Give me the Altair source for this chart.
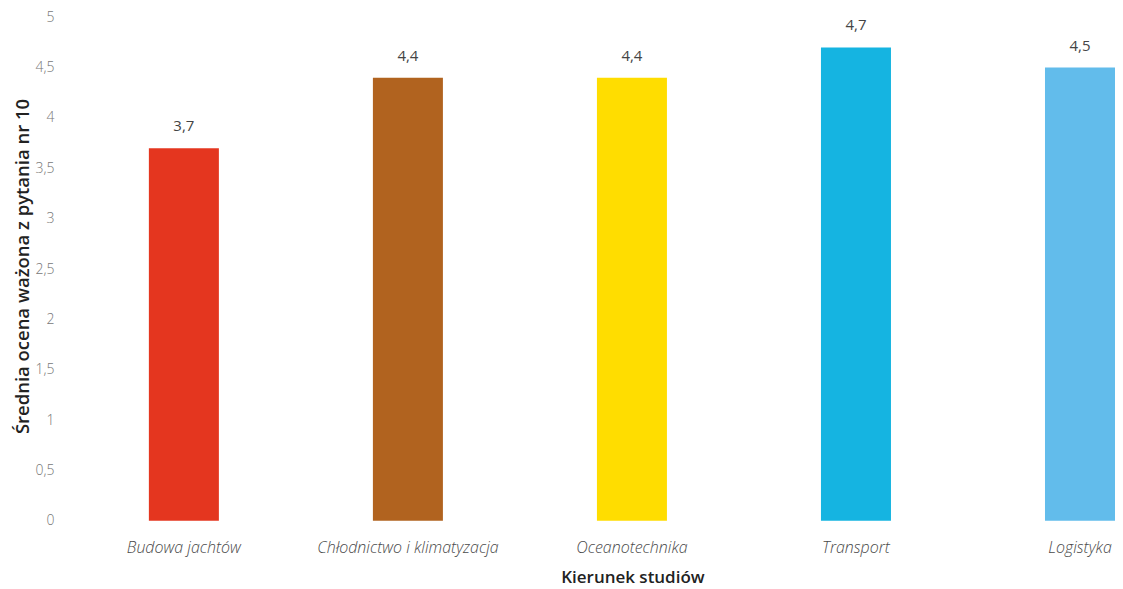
import altair as alt
import pandas as pd

categories = ["Budowa jachtów", "Chłodnictwo i klimatyzacja", "Oceanotechnika", "Transport", "Logistyka"]
values = [3.7, 4.4, 4.4, 4.7, 4.5]
colors = ["#E4361F", "#B1631F", "#FFDD00", "#15B4E1", "#62BCEB"]
y_ticks = [0, 0.5, 1, 1.5, 2, 2.5, 3, 3.5, 4, 4.5, 5]

df = pd.DataFrame({"kierunek": categories, "v": values, "c": colors})

font = "Open Sans"

x = alt.X("kierunek:N", sort=categories,
          scale=alt.Scale(paddingInner=0.6875, paddingOuter=0.165, align=1),
          axis=alt.Axis(title="Kierunek studiów", labelAngle=0, domain=False, ticks=False,
                        labelPadding=19, labelFont=font, labelFontSize=16, labelFontStyle="italic",
                        labelFontWeight=300, labelColor="#4a4a4a", labelLimit=400,
                        titleFont=font, titleFontSize=17,
                        titleFontWeight=600, titleColor="#222222", titleX=558, titleY=57,
                        titleBaseline="middle"))
y = alt.Y("v:Q", scale=alt.Scale(domain=[0, 5], nice=False),
          axis=alt.Axis(title="Średnia ocena ważona z pytania nr 10", values=y_ticks, grid=False,
                        domain=False, ticks=False, labelPadding=21, labelFont=font, labelFontSize=14,
                        labelColor="#777777", labelFontWeight=300,
                        labelExpr="replace(format(datum.value, '~g'), '.', ',')",
                        titleFont=font, titleFontSize=18.5, titleFontWeight=600, titleColor="#222222",
                        titleX=-52, titleY=249, titleAngle=-90, titleBaseline="middle",
                        titleAlign="center"))

bars = alt.Chart(df).mark_bar().encode(x=x, y=y, color=alt.Color("c:N", scale=None))
text = alt.Chart(df).transform_calculate(
    lab="replace(format(datum.v, '.1f'), '.', ',')"
).mark_text(dy=-22, font=font, fontSize=15, color="#444444").encode(
    x=alt.X("kierunek:N", sort=categories), y="v:Q", text="lab:N")

chart = (bars + text).properties(
    width=1041, height=504,
    autosize=alt.AutoSizeParams(type="none"),
    padding={"left": 67, "top": 9, "right": 0, "bottom": 70},
).configure(background="white").configure_view(stroke=None)

chart.save("out.html", embed_options={"renderer": "svg", "actions": False})
